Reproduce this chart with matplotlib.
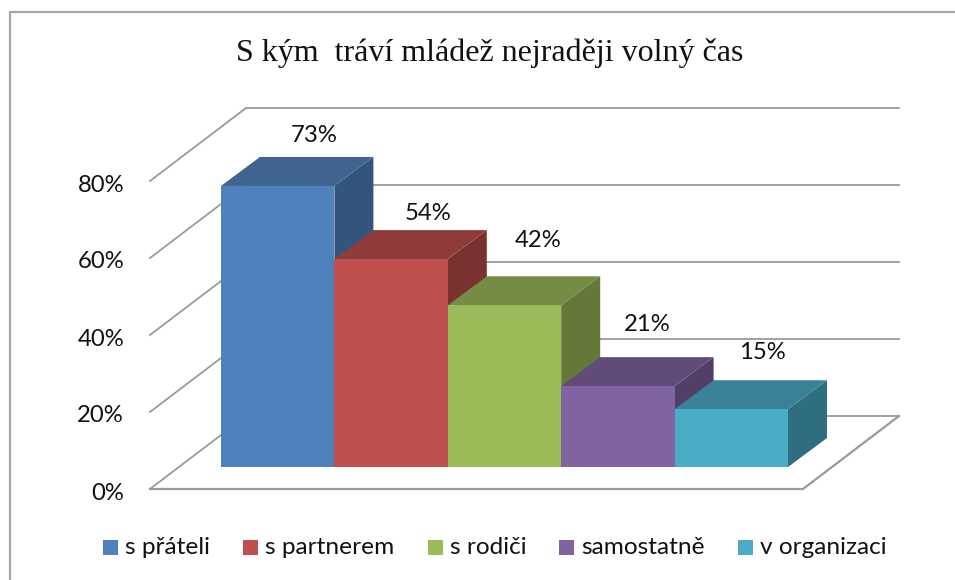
import matplotlib
matplotlib.use("Agg")
import matplotlib.pyplot as plt
from matplotlib.patches import Polygon, Rectangle

TITLE = "S kým  tráví mládež nejraději volný čas"
categories = ["s přáteli", "s partnerem", "s rodiči", "samostatně", "v organizaci"]
values = [73, 54, 42, 21, 15]
value_labels = ["73%", "54%", "42%", "21%", "15%"]
ticks = [0, 20, 40, 60, 80]
tick_labels = ["0%", "20%", "40%", "60%", "80%"]
front_colors = ["#4F81BD", "#C0504D", "#9BBB59", "#8064A2", "#4BACC6"]
top_colors = ["#3F6490", "#8F3B39", "#748C43", "#604B7A", "#388196"]
side_colors = ["#33547B", "#7A3230", "#637839", "#523F68", "#2F6D80"]

W, H = 955, 580
PX_PER_UNIT = 3.85          # vertical scale
FLOOR_X0, FLOOR_X1, FLOOR_Y = 150, 803, 489
DEPTH_DX, DEPTH_DY = 96, -73
BAR_X0, BAR_W = 221, 113.4
BAR_Y = 467
BAR_DX, BAR_DY = 39, -29
# label anchors relative to each bar (the source chart places them unevenly)
LABEL_DX = [93, 94, 90, 86, 88]
LABEL_DY = [-50, -46, -65, -62, -57]

fig = plt.figure(figsize=(W / 100, H / 100), dpi=100)
ax = fig.add_axes([0, 0, 1, 1])
ax.set_xlim(0, W)
ax.set_ylim(H, 0)
ax.axis("off")

SANS = "Lato"
GRID = "#9A9A9A"
FS = 17.2

# outer frame: left and top edges only reach the picture's borders
ax.plot([9.5, 9.5, W], [H, 12, 12], color="#A6A6A6", lw=1.6, zorder=1)

ax.text(490, 53, TITLE, family="Liberation Serif", fontsize=23,
        ha="center", va="center", color="#111111")

# walls and floor
for t, lab in zip(ticks, tick_labels):
    y_front = FLOOR_Y - t * PX_PER_UNIT
    xs = [FLOOR_X0, FLOOR_X0 + DEPTH_DX, FLOOR_X1 + DEPTH_DX]
    ys = [y_front, y_front + DEPTH_DY, y_front + DEPTH_DY]
    ax.plot(xs, ys, color=GRID, lw=1.3, zorder=2, solid_joinstyle="miter")
    ax.text(124, y_front + 4, lab, family=SANS, fontsize=FS,
            ha="right", va="center", color="#111111")
ax.plot([FLOOR_X0, FLOOR_X1, FLOOR_X1 + DEPTH_DX],
        [FLOOR_Y, FLOOR_Y, FLOOR_Y + DEPTH_DY],
        color=GRID, lw=1.6, zorder=2, solid_joinstyle="miter")

# bars; later bars overlap the side faces of earlier ones
for i, (v, lab, fc, tc, sc) in enumerate(zip(values, value_labels, front_colors,
                                             top_colors, side_colors)):
    x0 = BAR_X0 + i * BAR_W
    x1 = x0 + BAR_W
    top = BAR_Y - v * PX_PER_UNIT
    ax.add_patch(Polygon([(x1, BAR_Y), (x1 + BAR_DX, BAR_Y + BAR_DY),
                          (x1 + BAR_DX, top + BAR_DY), (x1, top)],
                         fc=sc, ec="none", zorder=3 + i))
    ax.add_patch(Polygon([(x0, top), (x0 + BAR_DX, top + BAR_DY),
                          (x1 + BAR_DX, top + BAR_DY), (x1, top)],
                         fc=tc, ec="none", zorder=3 + i))
    ax.add_patch(Rectangle((x0, top), BAR_W, BAR_Y - top, fc=fc, ec="none", zorder=3 + i))
    ax.text(x0 + LABEL_DX[i], top + LABEL_DY[i], lab, family=SANS, fontsize=FS,
            ha="center", va="center", color="#111111", zorder=20)

# legend
legend_sw = [103, 243, 428, 559, 738]
for x, c, lab in zip(legend_sw, front_colors, categories):
    ax.add_patch(Rectangle((x, 540), 15, 15, fc=c, ec="none"))
    ax.text(x + 22, 548, lab, family=SANS, fontsize=17.6, ha="left", va="center",
            color="#111111")

fig.savefig("out.png", dpi=100)
